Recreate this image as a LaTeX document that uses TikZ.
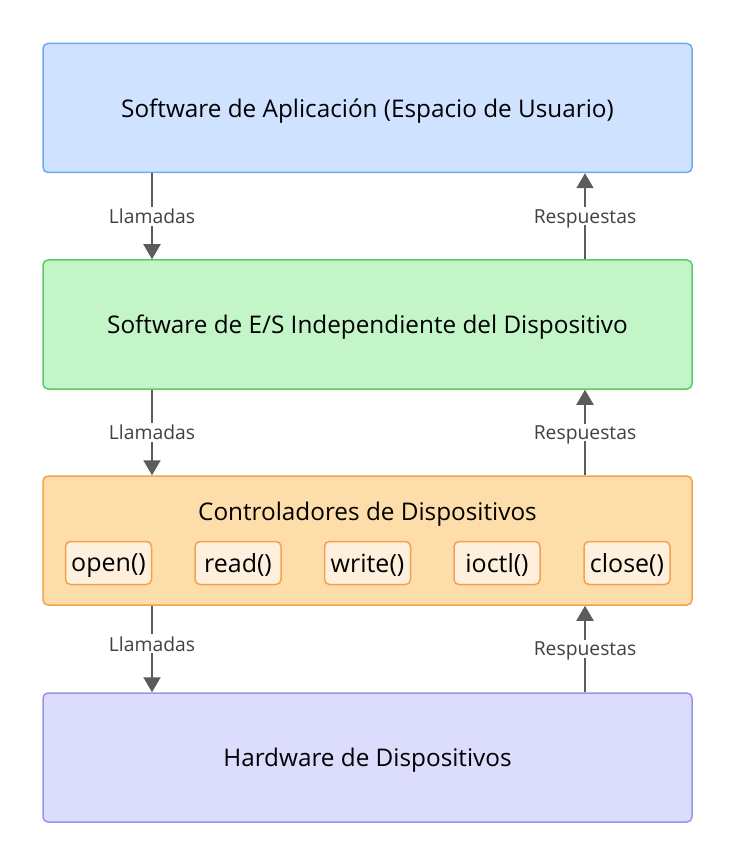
\documentclass[tikz,border=0pt]{standalone}
\usepackage{fontspec}
\setmainfont{Open Sans}
\usetikzlibrary{arrows.meta}
\definecolor{appfill}{HTML}{CFE2FF}
\definecolor{appline}{HTML}{6EA8F0}
\definecolor{indfill}{HTML}{C3F5C8}
\definecolor{indline}{HTML}{5CCB68}
\definecolor{drvfill}{HTML}{FDDDAA}
\definecolor{drvline}{HTML}{F3A24E}
\definecolor{fnfill}{HTML}{FEF0DC}
\definecolor{hwfill}{HTML}{DCDCFC}
\definecolor{hwline}{HTML}{9A94EC}
\definecolor{arrowgray}{HTML}{5C5C5C}
\newcommand{\bigfont}{\fontsize{24.3}{28}\selectfont}
\newcommand{\fnfont}{\fontsize{25}{29}\selectfont}
\newcommand{\smfont}{\fontsize{19.3}{22}\selectfont}

\begin{document}
\begin{tikzpicture}[x=1pt,y=-1pt,
  layer/.style={draw,rounded corners=5pt,line width=1.5pt,minimum width=649pt,
                minimum height=129pt,inner sep=0pt,text depth=0pt,font=\bigfont},
  fn/.style={draw=drvline,fill=fnfill,rounded corners=5pt,line width=1.5pt,
             minimum width=86pt,minimum height=43pt,inner sep=0pt,text depth=0pt,font=\fnfont},
  flow/.style={draw=arrowgray,line width=2pt,-{Triangle[length=15pt,width=17pt]}},
  lbl/.style={fill=white,text=arrowgray!70!black,font=\smfont,inner sep=2pt,text depth=0pt}]
  \useasboundingbox (0,0) rectangle (736,866);
  \begin{scope}
   \node[layer,draw=appline,fill=appfill] (app)   at (367.5,108)   {Software de Aplicación (Espacio de Usuario)};
   \node[layer,draw=indline,fill=indfill] (indep) at (367.5,324.5) {Software de E/S Independiente del Dispositivo};
   \node[layer,draw=drvline,fill=drvfill] (drv)   at (367.5,540.5) {};
   \node[layer,draw=hwline,fill=hwfill]   (hw)    at (367.5,757.5) {Hardware de Dispositivos};
   \node[font=\bigfont,text depth=0pt] (drvtitle) at (367.5,511) {Controladores de Dispositivos};
   \node[fn] (fopen)  at (108.5,563) {open()};
   \node[fn] (fread)  at (238,563)   {read()};
   \node[fn] (fwrite) at (367.5,563) {write()};
   \node[fn] (fioctl) at (497,563)   {ioctl()};
   \node[fn] (fclose) at (627,563)   {close()};
   \draw[flow] ([xshift=-215.5pt]app.south)   -- ([xshift=-215.5pt]indep.north) node[midway,lbl] (call1) {Llamadas};
   \draw[flow] ([xshift=-215.5pt]indep.south) -- ([xshift=-215.5pt]drv.north)   node[midway,lbl] (call2) {Llamadas};
   \draw[flow] ([xshift=-215.5pt]drv.south)   -- ([xshift=-215.5pt]hw.north)    node[pos=0.44,lbl] (call3) {Llamadas};
   \draw[flow] ([xshift=217.5pt]indep.north)  -- ([xshift=217.5pt]app.south)    node[midway,lbl] (resp1) {Respuestas};
   \draw[flow] ([xshift=217.5pt]drv.north)    -- ([xshift=217.5pt]indep.south)  node[midway,lbl] (resp2) {Respuestas};
   \draw[flow] ([xshift=217.5pt]hw.north)     -- ([xshift=217.5pt]drv.south)    node[pos=0.5,lbl] (resp3) {Respuestas};
  \end{scope}
\end{tikzpicture}
\end{document}
